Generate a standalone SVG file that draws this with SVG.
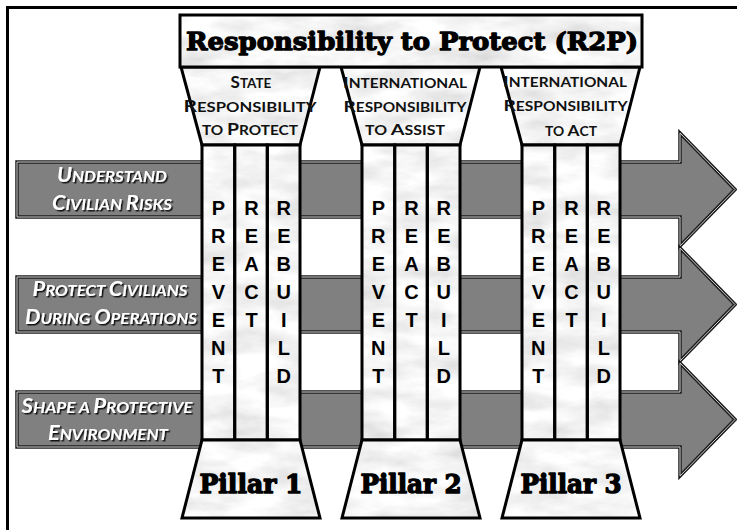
<svg xmlns="http://www.w3.org/2000/svg" width="737" height="530" viewBox="0 0 737 530">
<defs>
<filter id="marble" filterUnits="userSpaceOnUse" x="0" y="0" width="737" height="530">
<feTurbulence type="fractalNoise" baseFrequency="0.018 0.045" numOctaves="5" seed="11" result="n"/>
<feColorMatrix in="n" type="matrix" values="0.5 0 0 0 0.66  0.5 0 0 0 0.66  0.5 0 0 0 0.66  0 0 0 0 1" result="g"/>
<feComposite in="g" in2="SourceGraphic" operator="in"/>
</filter>
<filter id="shadow" x="-10%" y="-30%" width="130%" height="160%">
<feDropShadow dx="1.5" dy="1.5" stdDeviation="0.7" flood-color="#000" flood-opacity="0.85"/>
</filter>
<style>
.frame{fill:none;stroke:#000;stroke-width:3}
.arrow{fill:#808080;stroke:#1c1c1c;stroke-width:3.5;stroke-linejoin:miter}
.arrowIn{fill:none;stroke:#cfcfcf;stroke-width:1;stroke-linejoin:miter}
.mf{fill:#000;filter:url(#marble)}
.edge{fill:none;stroke:#000;stroke-width:3;stroke-linejoin:miter}
.title{font-family:"DejaVu Serif","Liberation Serif",serif;font-weight:bold;font-size:25px;fill:#000;stroke:#000;stroke-width:1.3;stroke-linejoin:round}
.pl{font-family:"DejaVu Serif","Liberation Serif",serif;font-weight:bold;font-size:26px;fill:#000;stroke:#000;stroke-width:1.4;stroke-linejoin:round;text-anchor:middle}
.cap{font-family:Lato,"Open Sans",sans-serif;font-weight:bold;fill:#111;text-anchor:middle}
.c1 .b{font-size:17px}.c1 .s{font-size:13.5px}
.c2 .b{font-size:15.5px}.c2 .s{font-size:12.5px}
.lbl{font-family:Lato,"Open Sans",sans-serif;font-weight:bold;font-style:italic;fill:#fff;text-anchor:middle;filter:url(#shadow)}
.lbl .b{font-size:20px}.lbl .s{font-size:15.5px}
.let{font-family:"Liberation Sans",Arial,sans-serif;font-weight:bold;font-size:20px;fill:#000;text-anchor:middle}
</style>
</defs>
<rect width="737" height="530" fill="#fff"/>
<path class="frame" d="M7.5,530 V7.5 H737"/>

<g id="connectors">
<g id="arrow1">
<polygon class="arrow" points="17,162 680,162 680,133 735,189.5 680,246 680,217 17,217"/>
<polygon class="arrowIn" points="17,162 680,162 680,133 735,189.5 680,246 680,217 17,217"/>
<text class="lbl" x="112" y="182" textLength="110" lengthAdjust="spacingAndGlyphs"><tspan class="b">U</tspan><tspan class="s">NDERSTAND</tspan></text>
<text class="lbl" x="112" y="210" textLength="120" lengthAdjust="spacingAndGlyphs"><tspan class="b">C</tspan><tspan class="s">IVILIAN </tspan><tspan class="b">R</tspan><tspan class="s">ISKS</tspan></text>
</g>
<g id="arrow2">
<polygon class="arrow" points="17,277 680,277 680,248 735,304.5 680,361 680,332 17,332"/>
<polygon class="arrowIn" points="17,277 680,277 680,248 735,304.5 680,361 680,332 17,332"/>
<text class="lbl" x="110" y="296" textLength="155" lengthAdjust="spacingAndGlyphs"><tspan class="b">P</tspan><tspan class="s">ROTECT </tspan><tspan class="b">C</tspan><tspan class="s">IVILIANS</tspan></text>
<text class="lbl" x="111" y="324" textLength="172" lengthAdjust="spacingAndGlyphs"><tspan class="b">D</tspan><tspan class="s">URING </tspan><tspan class="b">O</tspan><tspan class="s">PERATIONS</tspan></text>
</g>
<g id="arrow3">
<polygon class="arrow" points="17,392 680,392 680,363 735,419.5 680,476 680,447 17,447"/>
<polygon class="arrowIn" points="17,392 680,392 680,363 735,419.5 680,476 680,447 17,447"/>
<text class="lbl" x="107" y="413" textLength="171" lengthAdjust="spacingAndGlyphs"><tspan class="b">S</tspan><tspan class="s">HAPE A </tspan><tspan class="b">P</tspan><tspan class="s">ROTECTIVE</tspan></text>
<text class="lbl" x="108" y="440" textLength="120" lengthAdjust="spacingAndGlyphs"><tspan class="b">E</tspan><tspan class="s">NVIRONMENT</tspan></text>
</g>
</g>

<g id="pillar1">
<polygon class="mf" points="181,67 320,67 300,145 202,145"/>
<polygon class="edge" points="181,67 320,67 300,145 202,145"/>
<rect class="mf" x="202" y="145" width="98" height="295"/>
<rect class="edge" x="202" y="145" width="32.7" height="295"/>
<rect class="edge" x="234.7" y="145" width="32.6" height="295"/>
<rect class="edge" x="267.3" y="145" width="32.7" height="295"/>
<polygon class="mf" points="202,440 300,440 320,518 182,518"/>
<polygon class="edge" points="202,440 300,440 320,518 182,518"/>
<g class="cap c1">
<text x="251" y="88"><tspan class="b">S</tspan><tspan class="s">TATE</tspan></text>
<text x="250" y="112" textLength="133" lengthAdjust="spacingAndGlyphs"><tspan class="b">R</tspan><tspan class="s">ESPONSIBILITY</tspan></text>
<text x="250" y="135" textLength="96" lengthAdjust="spacingAndGlyphs"><tspan class="s">TO </tspan><tspan class="b">P</tspan><tspan class="s">ROTECT</tspan></text>
</g>
<g class="let">
<text x="218.3" y="215">P</text><text x="218.3" y="243">R</text><text x="218.3" y="271">E</text><text x="218.3" y="299">V</text><text x="218.3" y="327">E</text><text x="218.3" y="355">N</text><text x="218.3" y="383">T</text>
<text x="251.5" y="215">R</text><text x="251.5" y="243">E</text><text x="251.5" y="271">A</text><text x="251.5" y="299">C</text><text x="251.5" y="327">T</text>
<text x="283.8" y="215">R</text><text x="283.8" y="243">E</text><text x="283.8" y="271">B</text><text x="283.8" y="299">U</text><text x="283.8" y="327">I</text><text x="283.8" y="355">L</text><text x="283.8" y="383">D</text>
</g>
<text class="pl" x="251" y="493" textLength="103" lengthAdjust="spacingAndGlyphs">Pillar 1</text>
</g>

<g id="pillar2">
<polygon class="mf" points="341,67 480,67 460,145 362,145"/>
<polygon class="edge" points="341,67 480,67 460,145 362,145"/>
<rect class="mf" x="362" y="145" width="98" height="295"/>
<rect class="edge" x="362" y="145" width="32.7" height="295"/>
<rect class="edge" x="394.7" y="145" width="32.6" height="295"/>
<rect class="edge" x="427.3" y="145" width="32.7" height="295"/>
<polygon class="mf" points="362,440 460,440 480,518 342,518"/>
<polygon class="edge" points="362,440 460,440 480,518 342,518"/>
<g class="cap c2">
<text x="405" y="88" textLength="124" lengthAdjust="spacingAndGlyphs"><tspan class="b">I</tspan><tspan class="s">NTERNATIONAL</tspan></text>
<text x="405" y="112" textLength="123" lengthAdjust="spacingAndGlyphs"><tspan class="b">R</tspan><tspan class="s">ESPONSIBILITY</tspan></text>
<text x="405" y="135" textLength="80" lengthAdjust="spacingAndGlyphs"><tspan class="s">TO </tspan><tspan class="b">A</tspan><tspan class="s">SSIST</tspan></text>
</g>
<g class="let">
<text x="378.3" y="215">P</text><text x="378.3" y="243">R</text><text x="378.3" y="271">E</text><text x="378.3" y="299">V</text><text x="378.3" y="327">E</text><text x="378.3" y="355">N</text><text x="378.3" y="383">T</text>
<text x="411.5" y="215">R</text><text x="411.5" y="243">E</text><text x="411.5" y="271">A</text><text x="411.5" y="299">C</text><text x="411.5" y="327">T</text>
<text x="443.8" y="215">R</text><text x="443.8" y="243">E</text><text x="443.8" y="271">B</text><text x="443.8" y="299">U</text><text x="443.8" y="327">I</text><text x="443.8" y="355">L</text><text x="443.8" y="383">D</text>
</g>
<text class="pl" x="411" y="493" textLength="101" lengthAdjust="spacingAndGlyphs">Pillar 2</text>
</g>

<g id="pillar3">
<polygon class="mf" points="501,67 640,67 620,145 522,145"/>
<polygon class="edge" points="501,67 640,67 620,145 522,145"/>
<rect class="mf" x="522" y="145" width="98" height="295"/>
<rect class="edge" x="522" y="145" width="32.7" height="295"/>
<rect class="edge" x="554.7" y="145" width="32.6" height="295"/>
<rect class="edge" x="587.3" y="145" width="32.7" height="295"/>
<polygon class="mf" points="522,440 620,440 640,518 502,518"/>
<polygon class="edge" points="522,440 620,440 640,518 502,518"/>
<g class="cap c2">
<text x="565" y="87" textLength="124" lengthAdjust="spacingAndGlyphs"><tspan class="b">I</tspan><tspan class="s">NTERNATIONAL</tspan></text>
<text x="565.5" y="111" textLength="124" lengthAdjust="spacingAndGlyphs"><tspan class="b">R</tspan><tspan class="s">ESPONSIBILITY</tspan></text>
<text x="571" y="136" textLength="52" lengthAdjust="spacingAndGlyphs"><tspan class="s">TO </tspan><tspan class="b">A</tspan><tspan class="s">CT</tspan></text>
</g>
<g class="let">
<text x="538.3" y="215">P</text><text x="538.3" y="243">R</text><text x="538.3" y="271">E</text><text x="538.3" y="299">V</text><text x="538.3" y="327">E</text><text x="538.3" y="355">N</text><text x="538.3" y="383">T</text>
<text x="571.5" y="215">R</text><text x="571.5" y="243">E</text><text x="571.5" y="271">A</text><text x="571.5" y="299">C</text><text x="571.5" y="327">T</text>
<text x="603.8" y="215">R</text><text x="603.8" y="243">E</text><text x="603.8" y="271">B</text><text x="603.8" y="299">U</text><text x="603.8" y="327">I</text><text x="603.8" y="355">L</text><text x="603.8" y="383">D</text>
</g>
<text class="pl" x="571" y="493" textLength="101" lengthAdjust="spacingAndGlyphs">Pillar 3</text>
</g>

<g id="title">
<rect class="mf" x="180" y="15" width="462" height="52"/>
<rect class="edge" x="180" y="15" width="462" height="52"/>
<text class="title" x="186" y="50" textLength="452" lengthAdjust="spacingAndGlyphs">Responsibility to Protect (R2P)</text>
</g>
</svg>
